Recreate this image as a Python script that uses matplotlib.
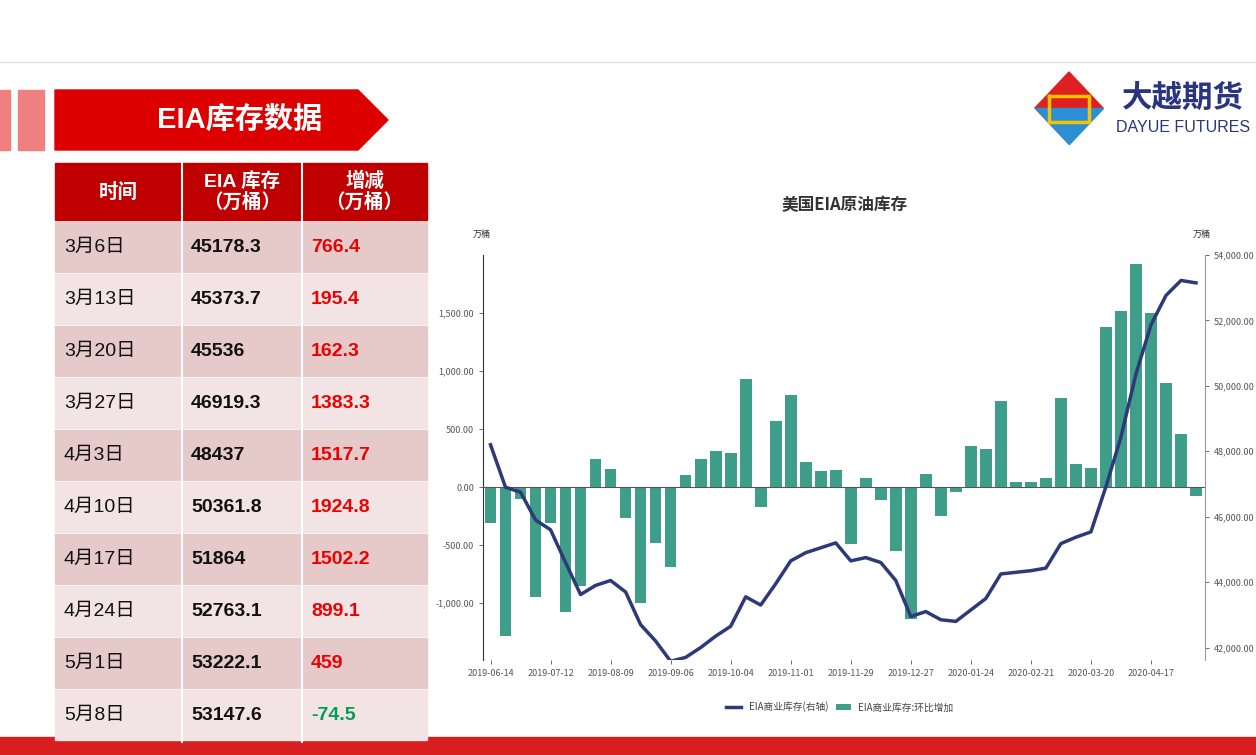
import matplotlib
matplotlib.use("Agg")
import matplotlib.pyplot as plt
from matplotlib.patches import Rectangle, Polygon
import numpy as np
import pandas as pd

plt.rcParams['font.family'] = ['Noto Sans CJK SC', 'DejaVu Sans']
ARIAL = ['Liberation Sans', 'Noto Sans CJK SC']

dates = pd.date_range("2019-06-14", periods=48, freq="7D").strftime("%Y-%m-%d").tolist()
changes = [-310, -1280, -100, -950, -310, -1080, -850, 240, 160, -270, -1000, -480, -690,
           100, 240, 310, 290, 930, -170, 570, 790, 220, 140, 150, -490, 80, -110, -550,
           -1140, 110, -250, -40, 350, 330, 740, 40, 40, 80, 766.4, 195.4, 162.3, 1383.3,
           1517.7, 1924.8, 1502.2, 899.1, 459, -74.5]
stocks = [48200, 46900, 46750, 45900, 45600, 44600, 43620, 43900, 44050, 43700, 42700,
          42200, 41580, 41700, 42000, 42350, 42650, 43550, 43300, 43950, 44650, 44900,
          45050, 45200, 44650, 44750, 44600, 44050, 42950, 43100, 42850, 42800, 43150,
          43500, 44250, 44300, 44350, 44430, 45178.3, 45373.7, 45536, 46919.3, 48437,
          50361.8, 51864, 52763.1, 53222.1, 53147.6]

tbl_dates = ["3月6日", "3月13日", "3月20日", "3月27日", "4月3日", "4月10日", "4月17日", "4月24日", "5月1日", "5月8日"]
tbl_stock = ["45178.3", "45373.7", "45536", "46919.3", "48437", "50361.8", "51864", "52763.1", "53222.1", "53147.6"]
tbl_chg = ["766.4", "195.4", "162.3", "1383.3", "1517.7", "1924.8", "1502.2", "899.1", "459", "-74.5"]

W, H = 1256, 755
fig = plt.figure(figsize=(W/100, H/100), dpi=100)
bg = fig.add_axes([0, 0, 1, 1])
bg.set_xlim(0, W); bg.set_ylim(H, 0); bg.axis('off')

bg.plot([0, W], [62, 62], color='#e0e0e0', lw=1)
bg.add_patch(Rectangle((0, 90), 10, 60, color='#f08080'))
bg.add_patch(Rectangle((18, 90), 26, 60, color='#f08080'))
bg.add_patch(Polygon([(55, 90), (358, 90), (388, 120), (358, 150), (55, 150)], color='#dd0000'))
bg.text(240, 120, "EIA库存数据", color='white', fontsize=21, fontweight='bold', ha='center', va='center', family=ARIAL)
cx, cy = 1069, 108
bg.add_patch(Polygon([(cx, 72), (cx+34, cy), (cx, 144), (cx-34, cy)], color='#e02020'))
bg.add_patch(Polygon([(cx-34, cy), (cx, cy), (cx, 144)], color='#2b8fd6'))
bg.add_patch(Polygon([(cx+34, cy), (cx, cy), (cx, 144)], color='#2b8fd6'))
bg.plot([cx-20, cx+20, cx+20, cx-20, cx-20], [96, 96, 122, 122, 96], color='#f5c400', lw=2.5)
bg.text(1183, 98, "大越期货", fontsize=22, fontweight='bold', color='#2a3580', ha='center', va='center')
bg.text(1183, 128, "DAYUE FUTURES", fontsize=11.5, color='#2a3580', ha='center', va='center', family=ARIAL)
bg.add_patch(Rectangle((0, 737), W, 18, color='#d81e1e'))

cols = [55, 182, 302, 427]
bg.add_patch(Rectangle((55, 163), 372, 57, color='#c00000'))
heads = ["时间", "EIA 库存\n（万桶）", "增减\n（万桶）"]
for i, h in enumerate(heads):
    bg.text((cols[i]+cols[i+1])/2, 192, h, color='white', fontsize=14, fontweight='bold',
            ha='center', va='center', linespacing=1.1, family=ARIAL)
rh = 52
for r in range(10):
    y0 = 222 + r*rh
    col = '#e6c9c9' if r % 2 == 0 else '#f2e4e4'
    bg.add_patch(Rectangle((55, y0), 372, rh-2, color=col))
    yc = y0 + rh/2 - 1
    bg.text(64, yc, tbl_dates[r], fontsize=14, ha='left', va='center', color='#111', family=ARIAL)
    bg.text(191, yc, tbl_stock[r], fontsize=14, fontweight='bold', ha='left', va='center', color='#111', family=ARIAL)
    c = '#00a050' if tbl_chg[r].startswith('-') else '#ee0000'
    bg.text(311, yc, tbl_chg[r], fontsize=14, fontweight='bold', ha='left', va='center', color=c, family=ARIAL)
for x in cols[1:-1]:
    bg.plot([x, x], [163, 742], color='white', lw=1.5)

ax = fig.add_axes([483/W, 1-660/H, (1205-483)/W, (660-255)/H])
x = np.arange(len(dates))
ax.bar(x, changes, width=0.78, color='#3f9e8a', label='EIA商业库存:环比增加', zorder=2)
ax.axhline(0, color='#555', lw=0.8, zorder=3)
ax.set_ylim(-1490, 2000)
ax.set_xlim(-0.5, len(dates)-0.4)
ax.set_yticks([-1000, -500, 0, 500, 1000, 1500])
ax.set_yticklabels([f"{v:,.2f}" for v in [-1000, -500, 0, 500, 1000, 1500]])
ax.set_xticks(x[::4])
ax.set_xticklabels(dates[::4])
ax2 = ax.twinx()
ax2.plot(x, stocks, color='#2e3a78', lw=2.5, label='EIA商业库存(右轴)', zorder=4)
ax2.set_ylim(41620, 54000)
ax2.set_yticks(np.arange(42000, 54001, 2000))
ax2.set_yticklabels([f"{v:,.2f}" for v in np.arange(42000, 54001, 2000)])
for a in (ax, ax2):
    a.tick_params(labelsize=6.5, colors='#555', length=3, width=0.6)
    a.spines['top'].set_visible(False)
    a.spines['bottom'].set_visible(False)
ax.spines['right'].set_visible(False)
ax2.spines['left'].set_visible(False)
ax2.spines['right'].set_color('#999')
ax.spines['left'].set_color('#333')

fig.text(845/W, 1-205/H, "美国EIA原油库存", fontsize=12, fontweight='bold', color='#333', ha='center', va='center')
fig.text(482/W, 1-234/H, "万桶", fontsize=6.5, color='#333', ha='center', va='center')
fig.text(1202/W, 1-234/H, "万桶", fontsize=6.5, color='#333', ha='center', va='center')

h1, l1 = ax2.get_legend_handles_labels()
h2, l2 = ax.get_legend_handles_labels()
fig.legend(h1+h2, l1+l2, loc='center', bbox_to_anchor=(840/W, 1-707/H), ncol=2, frameon=False,
           fontsize=7, handlelength=1.5, columnspacing=0.8, labelcolor='#444')

fig.savefig("out.png", dpi=100)
